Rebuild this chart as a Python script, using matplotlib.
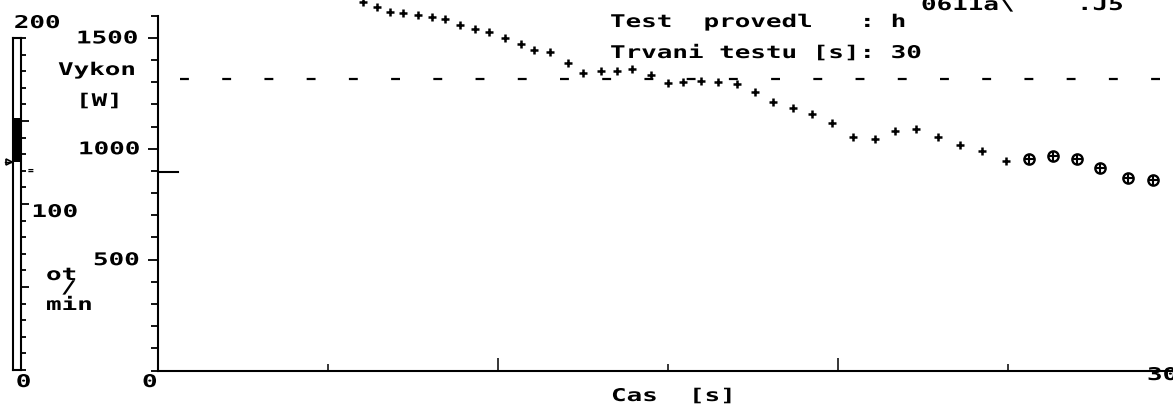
import matplotlib
matplotlib.use("Agg")
import matplotlib.pyplot as plt
import matplotlib.patheffects as pe
from matplotlib.transforms import Affine2D, offset_copy
from matplotlib.ticker import FixedLocator, MultipleLocator
from matplotlib.font_manager import FontProperties

# --- hodnoty odectene z vytisku (Wingate test, jeden bod = jedna otacka) ---
cas = [6.03, 6.44, 6.82, 7.21, 7.65, 8.06, 8.44, 8.88, 9.32, 9.74,
       10.21, 10.68, 11.06, 11.53, 12.06, 12.50, 13.03, 13.50, 13.94, 14.50,
       15.00, 15.44, 15.97, 16.47, 17.03, 17.56, 18.09, 18.68, 19.24, 19.82,
       20.44, 21.09, 21.68, 22.29, 22.94, 23.59, 24.24, 24.94]
vykon = [1662, 1640, 1617, 1613, 1604, 1595, 1586, 1558, 1540, 1527,
         1500, 1474, 1446, 1437, 1387, 1342, 1351, 1351, 1360, 1333,
         1296, 1300, 1305, 1300, 1292, 1256, 1211, 1184, 1157, 1116,
         1053, 1044, 1080, 1089, 1053, 1017, 990, 945]
# posledni otacky (krouzek s krizkem)
cas_konec = [25.62, 26.32, 27.03, 27.71, 28.53, 29.26]
vykon_konec = [954, 967, 954, 913, 868, 859]

prah_vykon = 1315       # carkovana hladina [W]
prumer_vykon = 895      # kratka znacka u osy [W]
prah_od = 0.65          # [s]
ot_min, ot_max = 125, 152   # cerny usek na stupnici otacek
ot_znacka = 120             # znacka "="
trvani = 30

y_ticky = [500, 1000, 1500]
y_popisky = ["500", "1000", "1500"]

W, H = 1173, 405
Y_TOP = 1671


class Roztah(pe.AbstractPathEffect):
    """roztahne text vodorovne (siroke pismo jako na VGA vytisku)"""
    def __init__(self, sx):
        super().__init__()
        self.sx = sx

    def draw_path(self, renderer, gc, tpath, affine, rgbFace=None):
        renderer.draw_path(gc, tpath, Affine2D().scale(self.sx, 1.0) + affine, rgbFace)


FONT = FontProperties(family="DejaVu Sans Mono", weight="bold", size=12.6)
EFEKT = [Roztah(1.48)]


def px(x, y):
    return x / W, 1 - y / H


def napis(x, y, s, transform, **kw):
    t = fig.text(x, y, s, transform=transform, ha="left", va="baseline",
                 fontproperties=FONT, color="black", **kw)
    t.set_path_effects(EFEKT)
    return t


fig = plt.figure(figsize=(W / 100, H / 100), dpi=100)
fig.patch.set_facecolor("white")

# --- hlavni graf ---
ax = fig.add_axes([158 / W, (H - 370.5) / H, 1020 / W, 370.5 / H])
ax.set_xlim(0, trvani)
ax.set_ylim(0, Y_TOP)
ax.patch.set_alpha(0)
for s in ["top", "right"]:
    ax.spines[s].set_visible(False)
ax.spines["left"].set_bounds(0, 1600)
ax.spines["left"].set_linewidth(1.5)
ax.spines["bottom"].set_linewidth(1.5)

ax.yaxis.set_major_locator(FixedLocator(y_ticky))
ax.yaxis.set_minor_locator(MultipleLocator(100))
ax.xaxis.set_major_locator(FixedLocator([10, 20]))
ax.xaxis.set_minor_locator(FixedLocator([5, 15, 25]))
ax.tick_params(axis="y", which="major", direction="out", length=7.5, width=1.3,
               labelleft=False)
ax.tick_params(axis="y", which="minor", direction="out", length=5, width=1.3)
ax.tick_params(axis="x", which="major", direction="in", length=9.5, width=1.1,
               labelbottom=False)
ax.tick_params(axis="x", which="minor", direction="in", length=5, width=1.1)

ax.plot([prah_od, trvani], [prah_vykon, prah_vykon], color="black", lw=1.6,
        dashes=(4, 15), solid_capstyle="butt")
ax.plot([0, 0.6], [prumer_vykon, prumer_vykon], color="black", lw=1.5)
ax.plot(cas, vykon, ls="none", marker="+", ms=5.5, mew=1.8, color="black")
ax.plot(cas_konec, vykon_konec, ls="none", marker="o", ms=7.4, mew=1.7,
        mfc="none", mec="black")
ax.plot(cas_konec, vykon_konec, ls="none", marker="+", ms=6.8, mew=1.5,
        color="black")

# popisky osy y (vazane na hodnoty)
ty = offset_copy(ax.get_yaxis_transform(), fig=fig, y=-5.5, units="dots")
for v, s in zip(y_ticky, y_popisky):
    left = {"500": 93, "1000": 78, "1500": 76}[s]
    napis((left - 158) / 1020, v, s, ty)
tx0 = offset_copy(ax.get_xaxis_transform(), fig=fig, x=-16, y=-16.5, units="dots")
napis(0, 0, "0", tx0)
tx1 = offset_copy(ax.get_xaxis_transform(), fig=fig, x=-31, y=-9.5, units="dots")
napis(trvani, 0, str(trvani), tx1)

# --- stupnice otacek vlevo ---
ag = fig.add_axes([13 / W, (H - 370) / H, 8 / W, 332 / H])
ag.set_xlim(0, 1)
ag.set_ylim(0, 200)
for s in ag.spines.values():
    s.set_linewidth(1.5)
ag.set_xticks([])
ag.yaxis.tick_right()
ag.yaxis.set_major_locator(FixedLocator([50, 100, 150]))
ag.yaxis.set_minor_locator(MultipleLocator(10))
ag.tick_params(axis="y", which="major", direction="out", length=6, width=1.3,
               labelright=False)
ag.tick_params(axis="y", which="minor", direction="out", length=3.5, width=1.3)
ag.bar(0.5, ot_max - ot_min, bottom=ot_min, width=0.8, color="black")
ag.plot([-0.55], [ot_min], marker=">", ms=5, mfc="white", mec="black", mew=1.2,
        clip_on=False)
ag.plot([-0.95, -0.2], [ot_min, ot_min], color="black", lw=1.0, clip_on=False)

tg = ag.get_yaxis_transform()
napis(0.1, 200, "200", offset_copy(tg, fig=fig, y=10, units="dots"))
napis(2.3, 100, "100", offset_copy(tg, fig=fig, y=-13, units="dots"))
napis(0.35, 0, "0", offset_copy(tg, fig=fig, y=-17, units="dots"))
ag.text(1.85, ot_znacka, "=", transform=offset_copy(tg, fig=fig, y=-3, units="dots"),
        ha="left", va="baseline", fontsize=7, fontweight="bold",
        family="DejaVu Sans Mono")

# --- texty ---
tf = fig.transFigure
napis(*px(58, 75), "Vykon", tf)
napis(*px(76, 106), "[W]", tf)
napis(*px(46, 280), "ot", tf)
napis(*px(61, 293), "/", tf)
napis(*px(46, 310), "min", tf)
napis(*px(611, 401), "Cas  [s]", tf)
napis(*px(610, 27), "Test  provedl   : h", tf)
napis(*px(610, 58), "Trvani testu [s]: 30", tf)
napis(*px(921, 10), "0611a\\    .J5", tf)

fig.savefig("out.png", dpi=100, facecolor="white")
